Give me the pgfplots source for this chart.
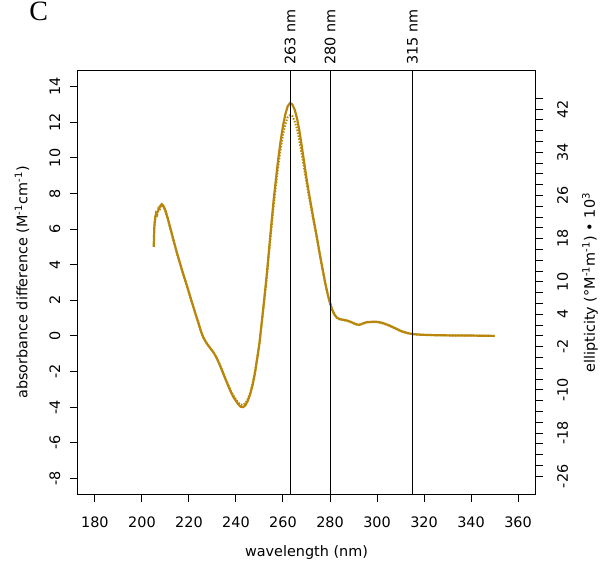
\documentclass[border=0pt]{standalone}
\usepackage{fontspec}
\setmainfont{DejaVu Sans}
\newfontfamily\serifC{Liberation Serif}
\usepackage{pgfplots}
\usepackage{pgfplotstable}
\pgfplotsset{compat=1.18}
\newlength{\px}\setlength{\px}{0.75bp}
\definecolor{gold}{HTML}{B8860B}

\pgfplotstableread{
x y
205 5.0
205.3 6.2
205.7 6.7
206.2 6.9
206.8 7.0
207.3 7.15
207.8 7.3
208.4 7.4
209 7.33
209.5 7.2
210 7.05
211 6.6
212 6.1
213 5.6
214 5.1
215 4.62
216 4.17
217 3.72
218 3.3
219 2.88
220 2.45
221 2.0
222 1.58
223 1.15
224 0.75
225 0.3
226 -0.05
227 -0.3
228 -0.5
229 -0.68
230 -0.85
231 -1.05
232 -1.3
233 -1.6
234 -1.92
235 -2.25
236 -2.58
237 -2.9
238 -3.2
239 -3.45
240 -3.65
241 -3.85
242 -3.98
243 -4.0
244 -3.9
245 -3.65
246 -3.3
247 -2.8
248 -2.15
249 -1.3
250 -0.4
251 0.8
252 2.05
253 3.3
254 4.75
255 6.2
256 7.6
257 8.8
258 9.95
259 10.95
260 11.8
261 12.45
262 12.9
263 13.08
264 13.0
265 12.7
266 12.2
267 11.5
268 10.65
269 9.75
270 8.85
271 8.05
272 7.3
273 6.55
274 5.85
275 5.1
276 4.35
277 3.65
278 2.95
279 2.35
280 1.85
281 1.45
282 1.18
283 1.02
284 0.95
285 0.92
286 0.9
287 0.87
288 0.83
289 0.78
290 0.72
291 0.66
292 0.63
293 0.64
294 0.7
295 0.75
296 0.78
297 0.78
298 0.8
299 0.8
300 0.79
301 0.77
302 0.74
303 0.7
304 0.65
305 0.6
306 0.54
307 0.48
308 0.42
309 0.35
310 0.29
311 0.24
312 0.2
313 0.16
314 0.13
315 0.11
317 0.08
320 0.06
325 0.04
330 0.03
335 0.02
340 0.02
345 0.01
350 0.0
}\solid

\pgfplotstableread{
x y
205.2 6.0
205.6 6.5
206.0 6.9
206.5 6.8
207.0 7.15
207.5 7.05
208.0 7.3
208.6 7.32
209.2 7.25
210 6.98
211 6.55
212 6.05
213 5.55
214 5.05
215 4.58
216 4.12
217 3.68
218 3.26
219 2.84
220 2.41
221 1.97
222 1.55
223 1.12
224 0.72
225 0.28
226 -0.07
227 -0.31
228 -0.5
229 -0.67
230 -0.84
231 -1.03
232 -1.28
233 -1.57
234 -1.89
235 -2.21
236 -2.53
237 -2.84
238 -3.13
239 -3.37
240 -3.57
241 -3.75
242 -3.86
243 -3.88
244 -3.78
245 -3.55
246 -3.2
247 -2.72
248 -2.08
249 -1.26
250 -0.4
251 0.75
252 1.95
253 3.15
254 4.55
255 5.95
256 7.25
257 8.45
258 9.55
259 10.5
260 11.3
261 11.9
262 12.28
263 12.4
264 12.35
265 12.05
266 11.6
267 10.95
268 10.2
269 9.4
270 8.6
271 7.85
272 7.15
273 6.45
274 5.75
275 5.02
276 4.3
277 3.6
278 2.92
279 2.33
280 1.83
281 1.43
282 1.16
283 1.0
284 0.93
286 0.88
288 0.81
290 0.7
292 0.61
294 0.68
296 0.76
298 0.78
300 0.77
302 0.72
304 0.63
306 0.52
308 0.4
310 0.27
312 0.18
314 0.12
316 0.09
320 0.06
330 0.03
340 0.02
350 0.0
}\dotted

\begin{document}
\fontsize{10.8bp}{13bp}\selectfont
\begin{tikzpicture}
\useasboundingbox (0,0) rectangle (600\px,564\px);
\node[anchor=base west, inner sep=0pt, font=\serifC\fontsize{28\px}{28\px}\selectfont] at (29\px,543\px) {C};
\begin{axis}[
  at={(78\px,70\px)}, anchor=south west,
  scale only axis, width=457\px, height=423\px,
  xmin=172.8, xmax=367.2, ymin=-8.88, ymax=14.88,
  xtick={180,200,...,360}, ytick={-8,-6,...,14},
  xtick pos=bottom, ytick pos=left,
  tick align=outside, major tick length=8\px,
  tick style={black, line width=0.75bp},
  axis line style={line width=0.75bp},
  /pgf/number format/assume math mode=true,
  xticklabel style={anchor=north, inner sep=0pt},
  yticklabel style={rotate=90, anchor=south, inner sep=0pt},
  xticklabel shift=15\px, yticklabel shift=9.5\px,
  xlabel={wavelength (nm)},
  ylabel={absorbance difference (M\textsuperscript{-1}cm\textsuperscript{-1})},
  xlabel style={at={(axis description cs:0.5,-0.1395)}, anchor=center},
  ylabel style={at={(axis description cs:-0.1225,0.5)}, anchor=center},
  clip=false,
]
\addplot[gold, line width=2\px, dash pattern=on 1.5\px off 1.5\px] table[x=x,y=y] {\dotted};
\addplot[gold, line width=2.2\px] table[x=x,y=y] {\solid};
\addplot[black, line width=0.75bp] coordinates {(263,-8.88) (263,14.88)};
\addplot[black, line width=0.75bp] coordinates {(280,-8.88) (280,14.88)};
\addplot[black, line width=0.75bp] coordinates {(315,-8.88) (315,14.88)};
\node[rotate=90, anchor=west, inner sep=0pt] at (axis cs:263,15.22) {263 nm};
\node[rotate=90, anchor=west, inner sep=0pt] at (axis cs:280,15.22) {280 nm};
\node[rotate=90, anchor=west, inner sep=0pt] at (axis cs:315,15.22) {315 nm};
\end{axis}
\begin{axis}[
  at={(78\px,70\px)}, anchor=south west,
  scale only axis, width=457\px, height=423\px,
  xmin=172.8, xmax=367.2, ymin=-29.286, ymax=49.074,
  axis x line=none, axis y line*=right,
  ytick={-26,-18,-10,-2,4,10,18,26,34,42},
  minor ytick={-26,-24,...,44},
  tick align=outside, major tick length=8\px, minor tick length=8\px,
  tick style={black, line width=0.75bp},
  axis line style={line width=0.75bp},
  /pgf/number format/assume math mode=true,
  yticklabel style={rotate=90, anchor=north, inner sep=0pt},
  yticklabel shift=14\px,
  ylabel={ellipticity (°M\textsuperscript{-1}m\textsuperscript{-1}) • 10\textsuperscript{3}},
  ylabel style={at={(axis description cs:1.1204,0.5)}, anchor=center},
]
\end{axis}
\end{tikzpicture}
\end{document}
